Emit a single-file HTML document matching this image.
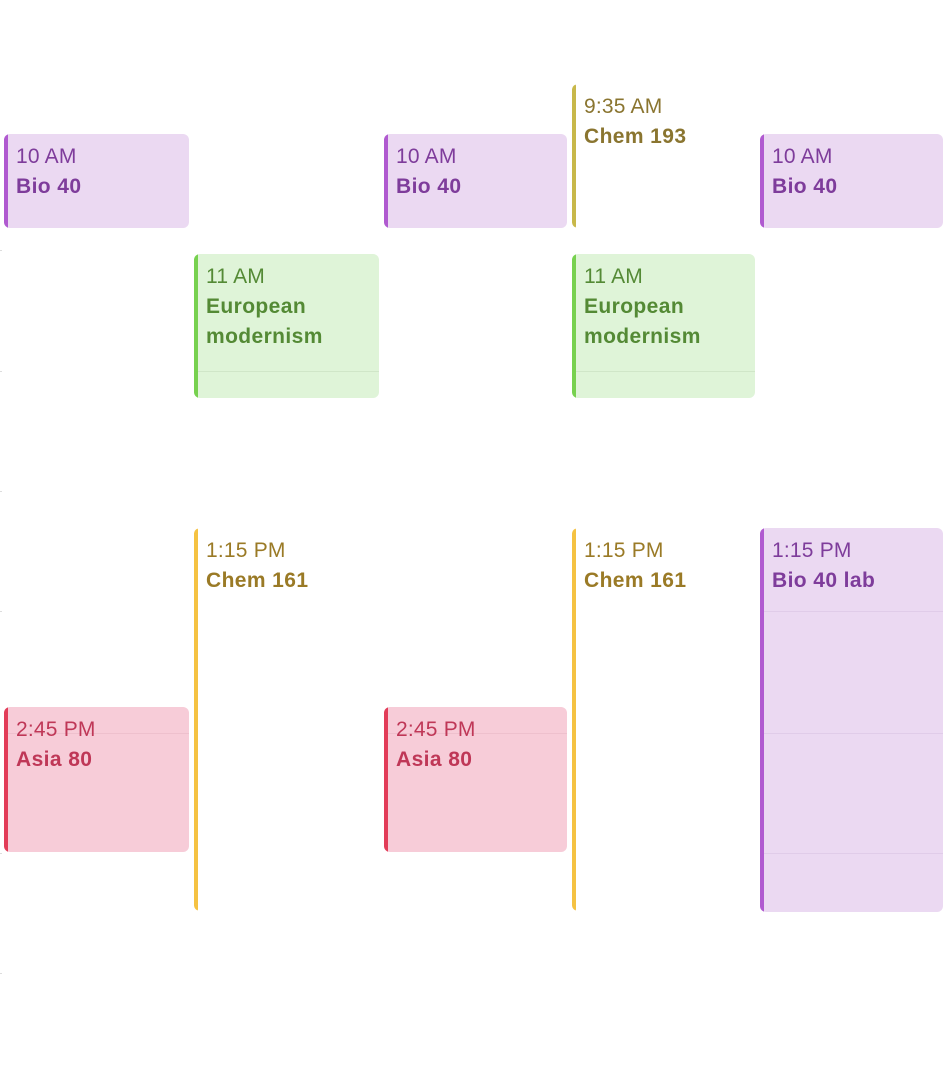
<!DOCTYPE html>
<html><head><style>
body{margin:0;width:950px;height:1066px;background:#fff;position:relative;overflow:hidden;font-family:"Liberation Sans",sans-serif}
.e{position:absolute;border-radius:6px;box-sizing:border-box;padding:8px 0 0 12px;overflow:hidden}
.e .t{font-size:21px;line-height:30px;position:relative;letter-spacing:0.2px}
.e .n{font-size:21px;line-height:30px;font-weight:bold;position:relative;letter-spacing:0.4px}
.bar{position:absolute;left:0;top:0;bottom:0;width:4px}
.ln{position:absolute;left:4px;right:0;height:1px}
.p{background:#ebd9f2;color:#7e3c9b}.p .bar{background:#b05ad0}.p .ln{background:#e0cce9}
.g{background:#dff4d8;color:#548a35}.g .bar{background:#77d14f}.g .ln{background:#d0e6c8}
.r{background:#f7ccd8;color:#bf3757}.r .bar{background:#e23c58}.r .ln{background:#eec0cd}
.y{background:transparent;color:#9a7a26}.y .bar{background:#f5c242;border-radius:3px}
.o{background:transparent;color:#8a7530}.o .bar{background:#c8b84a;border-radius:3px}
.tick{position:absolute;left:0;width:2px;height:1px;background:#ddd}
</style></head><body>
<div class="tick" style="top:250px"></div><div class="tick" style="top:371px"></div><div class="tick" style="top:491px"></div><div class="tick" style="top:611px"></div><div class="tick" style="top:853px"></div><div class="tick" style="top:973px"></div>

<div class="e p" style="left:4px;top:134px;width:185px;height:94px"><div class="bar"></div><div class="t">10 AM</div><div class="n">Bio 40</div></div>
<div class="e p" style="left:384px;top:134px;width:183px;height:94px"><div class="bar"></div><div class="t">10 AM</div><div class="n">Bio 40</div></div>
<div class="e p" style="left:760px;top:134px;width:183px;height:94px"><div class="bar"></div><div class="t">10 AM</div><div class="n">Bio 40</div></div>

<div class="e o" style="left:572px;top:84px;width:180px;height:144px"><div class="bar"></div><div class="t">9:35 AM</div><div class="n">Chem 193</div></div>

<div class="e g" style="left:194px;top:254px;width:185px;height:144px"><div class="bar"></div><div class="ln" style="top:117px"></div><div class="t">11 AM</div><div class="n">European<br>modernism</div></div>
<div class="e g" style="left:572px;top:254px;width:183px;height:144px"><div class="bar"></div><div class="ln" style="top:117px"></div><div class="t">11 AM</div><div class="n">European<br>modernism</div></div>

<div class="e y" style="left:194px;top:528px;width:180px;height:383px"><div class="bar"></div><div class="t">1:15 PM</div><div class="n">Chem 161</div></div>
<div class="e y" style="left:572px;top:528px;width:180px;height:383px"><div class="bar"></div><div class="t">1:15 PM</div><div class="n">Chem 161</div></div>

<div class="e p" style="left:760px;top:528px;width:183px;height:384px"><div class="bar"></div><div class="ln" style="top:83px"></div><div class="ln" style="top:205px"></div><div class="ln" style="top:325px"></div><div class="t">1:15 PM</div><div class="n">Bio 40 lab</div></div>

<div class="e r" style="left:4px;top:707px;width:185px;height:145px"><div class="bar"></div><div class="ln" style="top:26px"></div><div class="t">2:45 PM</div><div class="n">Asia 80</div></div>
<div class="e r" style="left:384px;top:707px;width:183px;height:145px"><div class="bar"></div><div class="ln" style="top:26px"></div><div class="t">2:45 PM</div><div class="n">Asia 80</div></div>
</body></html>
